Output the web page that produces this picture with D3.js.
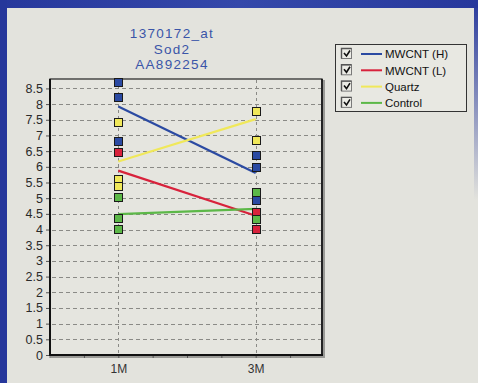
<!DOCTYPE html>
<html>
<head>
<meta charset="utf-8">
<script src="https://cdn.jsdelivr.net/npm/d3@7"></script>
<style>
  html, body { margin: 0; padding: 0; background: #e3e3dd; }
  svg { display: block; }
  text { font-family: "Liberation Sans", Arial, sans-serif; }
</style>
</head>
<body>
<svg id="chart" width="478" height="383"></svg>
<script>
// ---- data ----
const titleLines = ["1370172_at", "Sod2", "AA892254"];
const timepoints = ["1M", "3M"];
const timeIndex = [2, 6];           // slot of each time point on the x axis
const seriesNames = ["MWCNT (H)", "MWCNT (L)", "Quartz", "Control"];
const seriesColors = ["#2b4aa2", "#d8223c", "#f0e85a", "#5cb848"];

// group means (line end points) at 1M, 3M
const meanH = [7.92, 5.80];
const meanL = [5.88, 4.44];
const meanQ = [6.17, 7.52];
const meanC = [4.49, 4.66];

// individual samples at 1M and 3M
const pointsH = [[8.72, 8.24, 6.83], [6.38, 5.99, 4.93]];
const pointsL = [[6.47], [4.57, 4.01]];
const pointsQ = [[7.42, 5.61, 5.39], [7.79, 6.85]];
const pointsC = [[5.03, 4.38, 4.02], [5.19, 4.33]];

const yTicks = [0, 0.5, 1, 1.5, 2, 2.5, 3, 3.5, 4, 4.5, 5, 5.5, 6, 6.5, 7, 7.5, 8, 8.5];

const means = [meanH, meanL, meanQ, meanC];
const points = [pointsH, pointsL, pointsQ, pointsC];

// ---- layout ----
const svg = d3.select("#chart");
const W = 478, H = 383;
const plot = { left: 50, right: 322, top: 79, bottom: 355 };

const x = d3.scaleLinear().domain([0, 8]).range([49.6, 324.4]);
const y = d3.scaleLinear().domain([0, 8.8]).range([plot.bottom, plot.top]);

// window frame
svg.append("rect").attr("width", W).attr("height", H).attr("fill", "#e3e3dd");
const defs = svg.append("defs");
const gTop = defs.append("linearGradient").attr("id", "topband").attr("x1", 0).attr("x2", 1);
gTop.append("stop").attr("offset", "0").attr("stop-color", "#27389c");
gTop.append("stop").attr("offset", "0.5").attr("stop-color", "#3448aa");
gTop.append("stop").attr("offset", "1").attr("stop-color", "#27389c");
const gRight = defs.append("linearGradient").attr("id", "rightband")
  .attr("x1", 0).attr("x2", 0).attr("y1", 0).attr("y2", 1);
gRight.append("stop").attr("offset", "0").attr("stop-color", "#27389c").attr("stop-opacity", 1);
gRight.append("stop").attr("offset", "1").attr("stop-color", "#27389c").attr("stop-opacity", 0);
svg.append("rect").attr("x", 0).attr("y", 0).attr("width", W).attr("height", 8).attr("fill", "url(#topband)");
svg.append("rect").attr("x", 0).attr("y", 0).attr("width", 7).attr("height", H).attr("fill", "#26379b");
svg.append("rect").attr("x", 474).attr("y", 0).attr("width", 4).attr("height", 200).attr("fill", "url(#rightband)");

// title
svg.append("g").selectAll("text").data(titleLines).join("text")
  .attr("x", 172).attr("y", (d, i) => 38 + i * 15.5)
  .attr("text-anchor", "middle")
  .attr("font-size", 13.5).attr("letter-spacing", 1.3)
  .attr("fill", "#3a55a8")
  .text(d => d);

// plot shadow + frame
svg.append("rect").attr("x", plot.left + 2).attr("y", plot.top + 2)
  .attr("width", plot.right - plot.left).attr("height", plot.bottom - plot.top)
  .attr("fill", "none").attr("stroke", "#9a9a96").attr("stroke-width", 2);
svg.append("rect").attr("x", plot.left).attr("y", plot.top)
  .attr("width", plot.right - plot.left).attr("height", plot.bottom - plot.top)
  .attr("fill", "#e5e5df").attr("stroke", "#222").attr("stroke-width", 1.2);

// horizontal gridlines
svg.append("g").selectAll("line").data(yTicks.filter(d => d > 0)).join("line")
  .attr("x1", plot.left + 2).attr("x2", plot.right - 1)
  .attr("y1", d => Math.round(y(d)) + 0.5).attr("y2", d => Math.round(y(d)) + 0.5)
  .attr("stroke", "#8a8a86").attr("stroke-width", 1).attr("stroke-dasharray", "4,3");

// vertical gridlines at the time points
svg.append("g").selectAll("line").data(timeIndex).join("line")
  .attr("x1", d => Math.round(x(d)) + 0.5).attr("x2", d => Math.round(x(d)) + 0.5)
  .attr("y1", plot.top + 1).attr("y2", plot.bottom)
  .attr("stroke", "#8a8a86").attr("stroke-width", 1).attr("stroke-dasharray", "3,3");

// y axis
const yAxis = d3.axisLeft(y).tickValues(yTicks).tickSize(4).tickPadding(3)
  .tickFormat(d => String(d));
const gy = svg.append("g").attr("transform", `translate(${plot.left},0)`).call(yAxis);
gy.select(".domain").remove();
gy.selectAll(".tick line").attr("stroke", "#555");
gy.selectAll(".tick text").attr("font-size", 12.5).attr("fill", "#2a2a2a")
  .attr("font-family", "'Liberation Sans', Arial, sans-serif");

// x axis
const xAxis = d3.axisBottom(x).tickValues(d3.range(0, 8)).tickSize(3).tickPadding(6)
  .tickFormat(d => { const k = timeIndex.indexOf(d); return k >= 0 ? timepoints[k] : ""; });
const gx = svg.append("g").attr("transform", `translate(0,${plot.bottom})`).call(xAxis);
gx.select(".domain").remove();
gx.selectAll(".tick line").attr("stroke", "#555");
gx.selectAll(".tick text").attr("font-size", 12).attr("fill", "#333")
  .attr("font-family", "'Liberation Sans', Arial, sans-serif");

// heavy left and bottom axis lines
svg.append("line").attr("x1", plot.left).attr("x2", plot.left)
  .attr("y1", plot.top).attr("y2", plot.bottom + 1)
  .attr("stroke", "#111").attr("stroke-width", 2);
svg.append("line").attr("x1", plot.left - 1).attr("x2", plot.right + 1)
  .attr("y1", plot.bottom).attr("y2", plot.bottom)
  .attr("stroke", "#111").attr("stroke-width", 2);
svg.append("line").attr("x1", plot.right).attr("x2", plot.right)
  .attr("y1", plot.top).attr("y2", plot.bottom)
  .attr("stroke", "#111").attr("stroke-width", 1.6);

// mean lines
const line = d3.line().x((d, i) => x(timeIndex[i])).y(d => y(d));
svg.append("g").selectAll("path").data(means).join("path")
  .attr("d", d => line(d))
  .attr("fill", "none")
  .attr("stroke", (d, i) => seriesColors[i])
  .attr("stroke-width", 2.2);

// sample markers
const markerData = [];
points.forEach((series, s) => {
  series.forEach((vals, t) => vals.forEach(v => markerData.push({ s, t, v })));
});
svg.append("g").selectAll("rect").data(markerData).join("rect")
  .attr("x", d => Math.round(x(timeIndex[d.t])) - 3.5)
  .attr("y", d => Math.round(y(d.v)) - 3.5)
  .attr("width", 8).attr("height", 8)
  .attr("fill", d => seriesColors[d.s])
  .attr("stroke", "#1a1a1a").attr("stroke-width", 1);

// legend
const lg = svg.append("g");
lg.append("rect").attr("x", 335.5).attr("y", 44.5).attr("width", 131).attr("height", 67)
  .attr("fill", "#e8e8e2").attr("stroke", "#333").attr("stroke-width", 1);
const rows = lg.selectAll("g.row").data(seriesNames).join("g")
  .attr("class", "row")
  .attr("transform", (d, i) => `translate(0,${54 + i * 16.3})`);
// checkbox
rows.append("rect").attr("x", 341.5).attr("y", -5.5).attr("width", 10).attr("height", 10)
  .attr("fill", "#ecece6").attr("stroke", "#7a7a7a").attr("stroke-width", 1);
rows.append("path").attr("d", "M341.5,4.5 V-5.5 H351.5")
  .attr("fill", "none").attr("stroke", "#555").attr("stroke-width", 1.4);
rows.append("path").attr("d", "M344,-1 L346.5,2 L350,-3.5")
  .attr("fill", "none").attr("stroke", "#111").attr("stroke-width", 1.6);
rows.append("line").attr("x1", 361).attr("x2", 382).attr("y1", 0).attr("y2", 0)
  .attr("stroke", (d, i) => seriesColors[i]).attr("stroke-width", 2);
rows.append("text").attr("x", 385).attr("y", 4.2)
  .attr("font-size", 11.5).attr("fill", "#111")
  .text(d => d);
</script>
</body>
</html>
